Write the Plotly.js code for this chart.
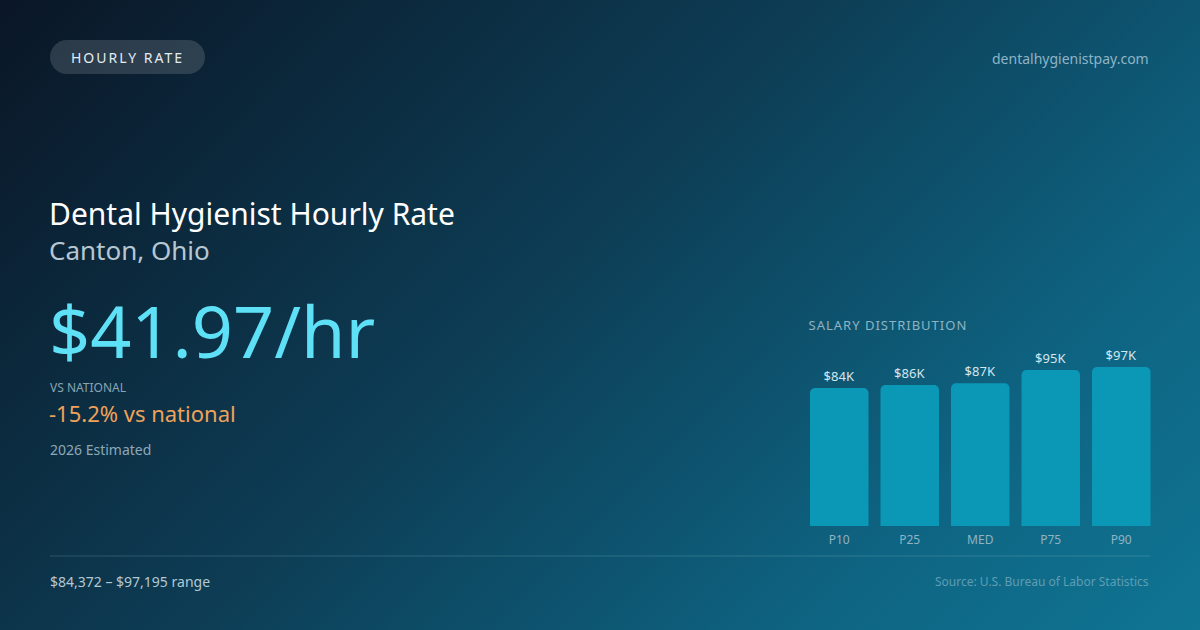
<!DOCTYPE html>
<html>
<head>
<meta charset="utf-8">
<script src="https://cdn.plot.ly/plotly-3.0.1.min.js"></script>
<style>
  html, body { margin:0; padding:0; width:1200px; height:630px; overflow:hidden; }
  #chart { width:1200px; height:630px;
    background: linear-gradient(135deg, #0a1626 0%, #0d3d55 45%, #0e6482 78%, #0f7593 100%); }
</style>
</head>
<body>
<div id="chart"></div>
<script>
// ---- data ----
const categories = ['P10', 'P25', 'MED', 'P75', 'P90'];
const salaries = [84372, 86200, 87298, 95400, 97195];
const barLabels = salaries.map(v => '$' + Math.round(v / 1000) + 'K');

const badgeText = 'HOURLY RATE';
const siteText = 'dentalhygienistpay.com';
const titleText = 'Dental Hygienist Hourly Rate';
const locationText = 'Canton, Ohio';
const hourlyText = '$41.97/hr';
const compareLabel = 'VS NATIONAL';
const compareText = '-15.2% vs national';
const yearText = '2026 Estimated';
const chartLabel = 'SALARY DISTRIBUTION';
const rangeText = '$84,372 – $97,195 range';
const sourceText = 'Source: U.S. Bureau of Labor Statistics';

// ---- helpers (pixel -> paper) ----
const W = 1200, H = 630;
const px = x => x / W;
const py = y => 1 - y / H;
const FONT = 'Noto Sans, Open Sans, sans-serif';

function ann(text, x, y, size, color, xanchor) {
  return {
    text: text, xref: 'paper', yref: 'paper', x: px(x), y: py(y),
    xanchor: xanchor || 'left', yanchor: 'middle', showarrow: false,
    font: { family: FONT, size: size, color: color }
  };
}

function pillPath(x0, y0, x1, y1) {
  const r = (y1 - y0) / 2, k = 0.5523 * r;
  const P = (x, y) => px(x) + ',' + py(y);
  return 'M' + P(x0 + r, y0) + ' L' + P(x1 - r, y0) +
    ' C' + P(x1 - r + k, y0) + ' ' + P(x1, y0 + r - k) + ' ' + P(x1, y0 + r) +
    ' C' + P(x1, y0 + r + k) + ' ' + P(x1 - r + k, y1) + ' ' + P(x1 - r, y1) +
    ' L' + P(x0 + r, y1) +
    ' C' + P(x0 + r - k, y1) + ' ' + P(x0, y0 + r + k) + ' ' + P(x0, y0 + r) +
    ' C' + P(x0, y0 + r - k) + ' ' + P(x0 + r - k, y0) + ' ' + P(x0 + r, y0) + ' Z';
}

const trace = {
  type: 'bar',
  x: categories,
  y: salaries,
  text: barLabels,
  textposition: 'outside',
  cliponaxis: false,
  outsidetextfont: { family: FONT, size: 13, color: '#d4e6ee' },
  marker: { color: '#0b98b6', line: { width: 0 } },
  hoverinfo: 'none'
};

const layout = {
  width: W, height: H,
  margin: { l: 0, r: 0, t: 0, b: 0 },
  paper_bgcolor: 'rgba(0,0,0,0)',
  plot_bgcolor: 'rgba(0,0,0,0)',
  showlegend: false,
  bargap: 0.17,
  barcornerradius: 5,
  xaxis: {
    domain: [px(804), px(1156.5)],
    showgrid: false, zeroline: false, showline: false, ticks: '',
    ticklabelstandoff: 5,
    tickfont: { family: FONT, size: 12, color: '#8fb3c3' },
    fixedrange: true
  },
  yaxis: {
    domain: [py(526), py(362.4)],
    range: [0, 100000],
    showgrid: false, zeroline: false, showline: false,
    showticklabels: false, ticks: '', fixedrange: true
  },
  shapes: [
    { type: 'path', xref: 'paper', yref: 'paper', path: pillPath(50, 40, 205, 74),
      fillcolor: 'rgba(255,255,255,0.14)', line: { width: 0 }, layer: 'below' },
    { type: 'line', xref: 'paper', yref: 'paper', x0: px(50), x1: px(1150), y0: py(556), y1: py(556),
      line: { color: 'rgba(160,210,225,0.22)', width: 1 } }
  ],
  annotations: [
    ann(badgeText, 127, 57, 14, '#e2ecf2', 'center'),
    ann(siteText, 1151, 58, 14, '#8db4c6', 'right'),
    ann(titleText, 47, 213, 30, '#ffffff'),
    ann(locationText, 47, 250, 26, '#b7c7d2'),
    ann(hourlyText, 47, 330, 72, '#5ee0f6'),
    ann(compareLabel, 48, 387, 12, '#8aa4b4'),
    ann(compareText, 47, 413, 22, '#f0a25a'),
    ann(yearText, 48, 449, 14, '#8ea8b8'),
    ann(chartLabel, 888, 325, 13, '#8fb3c3', 'center'),
    ann(rangeText, 48, 581, 14, '#b4c8d2'),
    ann(sourceText, 1151, 581, 12, '#5f9db4', 'right')
  ]
};

Plotly.newPlot('chart', [trace], layout, { staticPlot: true, displayModeBar: false }).then(() => {
  document.querySelectorAll('.annotation-text').forEach(el => {
    if (el.textContent === badgeText) el.style.letterSpacing = '2px';
    if (el.textContent === chartLabel) el.style.letterSpacing = '1px';
  });
});
</script>
</body>
</html>
